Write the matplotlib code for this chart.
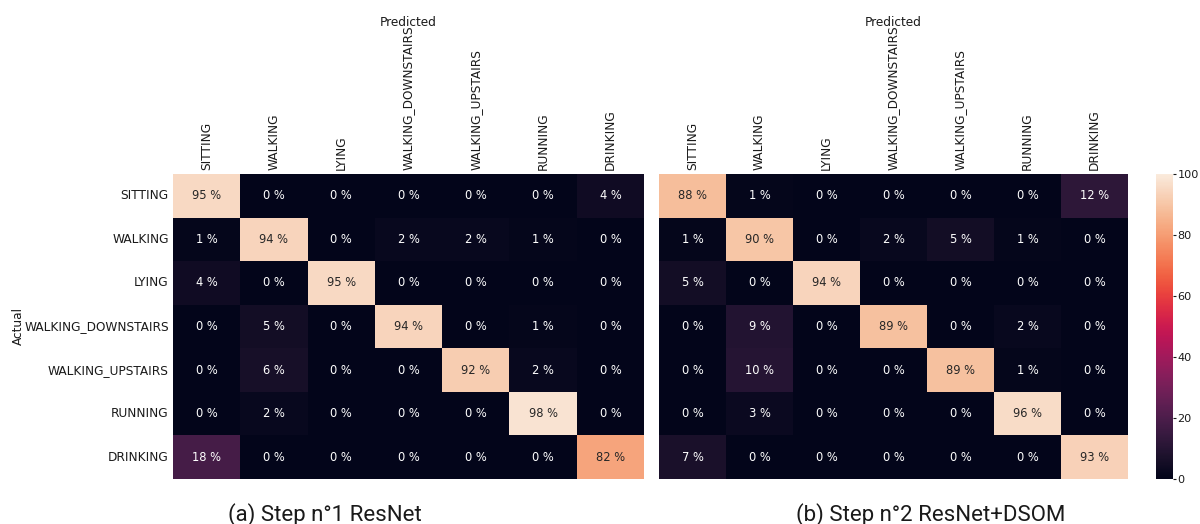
import numpy as np
import matplotlib
matplotlib.use('Agg')
import matplotlib.pyplot as plt
import seaborn as sns

labels = ['SITTING', 'WALKING', 'LYING', 'WALKING_DOWNSTAIRS',
          'WALKING_UPSTAIRS', 'RUNNING', 'DRINKING']

# step 1 : ResNet (rows = actual, cols = predicted), in %
cm_resnet = np.array([
    [95, 0, 0, 0, 0, 0, 4],
    [1, 94, 0, 2, 2, 1, 0],
    [4, 0, 95, 0, 0, 0, 0],
    [0, 5, 0, 94, 0, 1, 0],
    [0, 6, 0, 0, 92, 2, 0],
    [0, 2, 0, 0, 0, 98, 0],
    [18, 0, 0, 0, 0, 0, 82],
])

# step 2 : ResNet+DSOM
cm_dsom = np.array([
    [88, 1, 0, 0, 0, 0, 12],
    [1, 90, 0, 2, 5, 1, 0],
    [5, 0, 94, 0, 0, 0, 0],
    [0, 9, 0, 89, 0, 2, 0],
    [0, 10, 0, 0, 89, 1, 0],
    [0, 3, 0, 0, 0, 96, 0],
    [7, 0, 0, 0, 0, 0, 93],
])

captions = ['(a) Step n°1 ResNet', '(b) Step n°2 ResNet+DSOM']

fig = plt.figure(figsize=(12, 5.24), dpi=100)
ax1 = fig.add_axes([0.1442, 0.0859, 0.3925, 0.5821])
ax2 = fig.add_axes([0.5492, 0.0859, 0.3908, 0.5821])
cax = fig.add_axes([0.9633, 0.0859, 0.0142, 0.5821])


def annot_of(cm):
    return np.array([['%d %%' % v for v in row] for row in cm])


sns.heatmap(cm_resnet, ax=ax1, cmap='rocket', vmin=0, vmax=100,
            annot=annot_of(cm_resnet), fmt='', annot_kws={'size': 8.3},
            cbar=False, xticklabels=labels, yticklabels=labels)
sns.heatmap(cm_dsom, ax=ax2, cmap='rocket', vmin=0, vmax=100,
            annot=annot_of(cm_dsom), fmt='', annot_kws={'size': 8.3},
            cbar_ax=cax, xticklabels=labels, yticklabels=False)

for ax in (ax1, ax2):
    ax.xaxis.tick_top()
    ax.xaxis.set_label_position('top')
    ax.tick_params(axis='both', length=0, labelsize=8.7, colors='#1a1a1a', pad=3)
    plt.setp(ax.get_xticklabels(), rotation=90)
    ax.set_xlabel('Predicted', fontsize=8.7, color='#1a1a1a')
    ax.xaxis.set_label_coords(0.5, 1.498)
    ax.xaxis.label.set_va('center')

plt.setp(ax1.get_yticklabels(), rotation=0)
ax1.set_ylabel('Actual', fontsize=8.7, color='#1a1a1a')
ax1.yaxis.set_label_coords(-0.329, 0.5)
ax1.yaxis.label.set_va('center')

cax.tick_params(labelsize=8.1, length=2, pad=1.2, colors='#1a1a1a')
cax.set_yticks([0, 20, 40, 60, 80, 100])

fig.text(325 / 1200, 1 - 521 / 524, captions[0], family='Roboto', fontsize=16,
         ha='center', va='baseline', color='#1a1a1a')
fig.text(931 / 1200, 1 - 521 / 524, captions[1], family='Roboto', fontsize=16,
         ha='center', va='baseline', color='#1a1a1a')

fig.savefig('out.png', dpi=100)
